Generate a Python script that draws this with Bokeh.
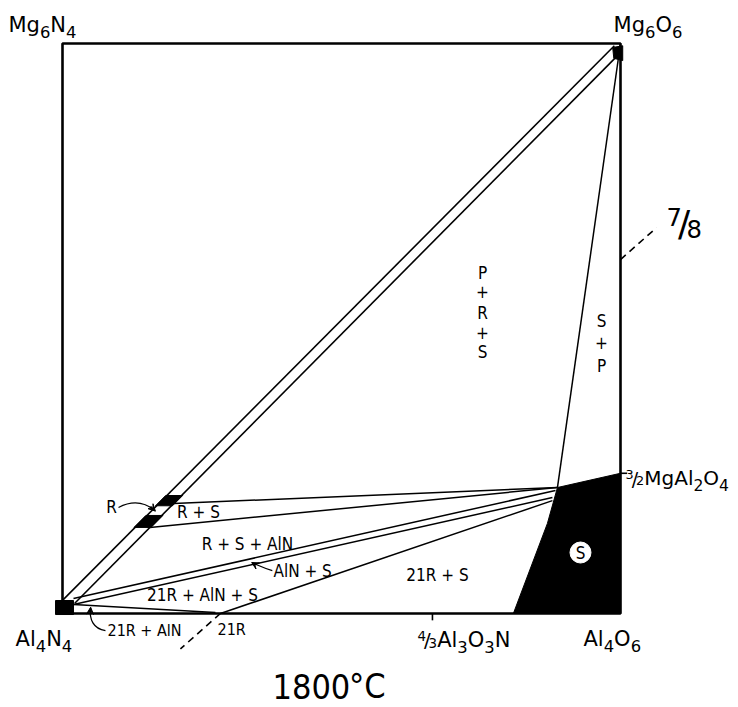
from bokeh.plotting import figure
from bokeh.models import Range1d, Arrow, VeeHead
from bokeh.embed import file_html
from bokeh.resources import INLINE
from bokeh.core.properties import value

FONT = "DejaVu Sans"
FONT_C = "DejaVu Sans Condensed"

# ---- data: compositions (x = equiv. fraction O, y = equiv. fraction Mg) ----
box_x = [0, 1, 1, 0, 0]          # Al4N4 -> Al4O6 -> Mg6O6 -> Mg6N4
box_y = [0, 0, 1, 1, 0]

alon_x = 0.663                   # 4/3 Al3O3N
spinel_y = 0.25                  # 3/2 MgAl2O4
inv_pt = (0.887, 0.221)          # S apex of the tie-line fans
r21_x = 0.283                    # 21R on the AlN-Al2O3 join
line78_end = (1.0, 0.621)        # 7/8 section meets the MgO-Al2O3 edge

spinel_region_x = [0.887, 1.0, 1.0, 0.808, 0.869]
spinel_region_y = [0.221, 0.246, 0.0, 0.0, 0.158]

band_upper_x = [0.000, 0.989]
band_upper_y = [0.023, 0.996]
band_lower_x = [0.022, 1.000]
band_lower_y = [0.018, 0.984]

r_blob_y = [(0.189, 0.207), (0.151, 0.172)]
r_tie_y = [0.193, 0.151]

aln_s_upper = ([0.0197, 0.8835], [0.0263, 0.2158])
aln_s_lower = ([0.0197, 0.878], [0.0158, 0.2035])
aln_21r = ([0.0197, 0.274], [0.0158, 0.0018])
r21_s = ([0.283, 0.878], [0.0, 0.198])

aln_blob_x = [-0.0125, 0.0197, 0.0197, -0.0125]
aln_blob_y = [-0.0018, -0.0018, 0.0228, 0.0228]
mgo_blob_x = [0.986, 1.004, 1.004, 0.988]
mgo_blob_y = [0.993, 0.996, 0.970, 0.974]

PX_X, PX_Y = 558.0, 570.0   # pixels per composition unit


def x_on(lx, ly, y):
    return lx[0] + (lx[1] - lx[0]) * (y - ly[0]) / (ly[1] - ly[0])


p = figure(width=738, height=707, output_backend="svg", toolbar_location=None,
           x_range=Range1d(-62 / PX_X, 676 / PX_X), y_range=Range1d(-94 / PX_Y, 613 / PX_Y),
           min_border=0)
p.axis.visible = False
p.grid.visible = False
p.outline_line_color = None
p.background_fill_color = "white"

K = "black"

# frame
p.line(box_x, box_y, line_color=K, line_width=2.6)

# spinel single-phase region
p.patch(spinel_region_x, spinel_region_y, fill_color=K, line_color=K, line_width=1)

# corner blobs
p.patch(aln_blob_x, aln_blob_y, fill_color=K, line_color=K)
p.patch(mgo_blob_x, mgo_blob_y, fill_color=K, line_color=K)

# R band
p.line(band_upper_x, band_upper_y, line_color=K, line_width=1.6)
p.line(band_lower_x, band_lower_y, line_color=K, line_width=1.6)
for (ya, yb) in r_blob_y:
    pad = 0.002
    xs = [x_on(band_upper_x, band_upper_y, ya) - pad, x_on(band_upper_x, band_upper_y, yb) - pad,
          x_on(band_lower_x, band_lower_y, yb) + pad, x_on(band_lower_x, band_lower_y, ya) + pad]
    p.patch(xs, [ya, yb, yb, ya], fill_color=K, line_color=K)

# R + S tie lines
for yt in r_tie_y:
    p.line([x_on(band_lower_x, band_lower_y, yt), inv_pt[0]], [yt, inv_pt[1]],
           line_color=K, line_width=1.5)

# AlN + S double line, 21R lines
for lx, ly in [aln_s_upper, aln_s_lower, aln_21r, r21_s]:
    p.line(lx, ly, line_color=K, line_width=1.5)

# S + P boundary
p.line([1.0, inv_pt[0]], [1.0, inv_pt[1]], line_color=K, line_width=1.5)

# dashed 7/8 section (outside the square only)
dx = line78_end[0] - r21_x
dy = line78_end[1] - 0.0
p.line([r21_x, r21_x - 0.10 * dx], [0.0, -0.10 * dy], line_color=K, line_width=1.6, line_dash="7 5")
p.line([line78_end[0], line78_end[0] + 0.09 * dx], [line78_end[1], line78_end[1] + 0.09 * dy],
       line_color=K, line_width=1.6, line_dash="7 5")

# ticks
p.line([alon_x, alon_x], [0.0, -0.012], line_color=K, line_width=1.6)
p.line([1.0, 1.012], [spinel_y - 0.004, spinel_y - 0.004], line_color=K, line_width=1.6)

# circled S
p.scatter([0.9283], [0.107], size=21, fill_color="white", line_color="white")

M = "middle"


def txt(x, y, s, size, align="left", font=FONT_C):
    p.text([x], [y], text=[s], text_font=value(font), text_font_size=size,
           text_align=align, text_baseline=M, text_color=K)


# DejaVu Sans advance widths (em); cap height 0.729 em
W = {"M": .863, "g": .635, "N": .748, "O": .787, "A": .684, "l": .278, "/": .337}
for d in "0123456789":
    W[d] = .636
CAP = 0.729


def rich(x, y, pieces, S):
    """Label with subscripts / stacked fractions; x,y = left / baseline."""
    cx = x
    for s, kind in pieces:
        size, off = {"n": (S, 0.0), "sub": (0.78 * S, -0.24 * S),
                     "num": (0.64 * S, 0.30 * S), "den": (0.64 * S, 0.0),
                     "sl": (0.95 * S, 0.0)}[kind]
        ymid = y + (off + CAP * size / 2) / PX_Y
        txt(cx, ymid, s, "%.1fpx" % size, font=FONT)
        adv = sum(W[c] for c in s) * size
        if kind == "num":
            adv *= 0.75
        if kind == "sl":
            adv *= 0.7
        cx += adv / PX_X


rich(-0.0968, 1.0193, [("Mg", "n"), ("6", "sub"), ("N", "n"), ("4", "sub")], 21)
rich(0.9875, 1.0193, [("Mg", "n"), ("6", "sub"), ("O", "n"), ("6", "sub")], 21)
rich(-0.0842, -0.0579, [("Al", "n"), ("4", "sub"), ("N", "n"), ("4", "sub")], 21)
rich(0.9337, -0.0579, [("Al", "n"), ("4", "sub"), ("O", "n"), ("6", "sub")], 21)
rich(0.6362, -0.0596, [("4", "num"), ("/", "sl"), ("3", "den"), ("Al", "n"), ("3", "sub"),
                       ("O", "n"), ("3", "sub"), ("N", "n")], 21)
rich(1.009, 0.2246, [("3", "num"), ("/", "sl"), ("2", "den"), ("MgAl", "n"), ("2", "sub"),
                     ("O", "n"), ("4", "sub")], 20)
rich(1.0824, 0.6596, [("7", "num"), ("/", "sl"), ("8", "den")], 38)

txt(0.3763, -0.1280, "1800", "34px")
txt(0.5134, -0.1280, "°C", "34px")

# phase-field labels
txt(0.2778, -0.0289, "21R", "16px")
txt(0.0806, -0.0307, "21R + AlN", "16px")
txt(0.0878, 0.186, "R", "17px", "center")
txt(0.2437, 0.1772, "R + S", "17px", "center")
txt(0.3315, 0.1228, "R + S + AlN", "17px", "center")
txt(0.378, 0.0754, "AlN + S", "17px", "left")
txt(0.2509, 0.0316, "21R + AlN + S", "17px", "center")
txt(0.672, 0.0667, "21R + S", "17px", "center")
txt(0.9283, 0.107, "S", "17px", "center")

for s, yy in zip(["P", "+", "R", "+", "S"], [0.598, 0.565, 0.528, 0.493, 0.459]):
    txt(0.7527, yy, s, "17px", "center")
for s, yy in zip(["S", "+", "P"], [0.514, 0.475, 0.435]):
    txt(0.966, yy, s, "17px", "center")

# curved arrows
p.bezier(x0=[0.1004], y0=[0.186], x1=[0.1649], y1=[0.181],
         cx0=[0.122], cy0=[0.197], cx1=[0.145], cy1=[0.197], line_color=K, line_width=1.3)
p.add_layout(Arrow(end=VeeHead(size=7, fill_color=K, line_color=K), x_start=0.158, y_start=0.188,
                   x_end=0.1665, y_end=0.1795, line_color=K, line_width=1.3))

p.bezier(x0=[0.376], y0=[0.0754], x1=[0.341], y1=[0.088],
         cx0=[0.36], cy0=[0.079], cx1=[0.35], cy1=[0.086], line_color=K, line_width=1.3)
p.add_layout(Arrow(end=VeeHead(size=7, fill_color=K, line_color=K), x_start=0.347, y_start=0.085,
                   x_end=0.339, y_end=0.0895, line_color=K, line_width=1.3))

p.bezier(x0=[0.077], y0=[-0.0300], x1=[0.050], y1=[0.009],
         cx0=[0.055], cy0=[-0.027], cx1=[0.048], cy1=[-0.01], line_color=K, line_width=1.3)
p.add_layout(Arrow(end=VeeHead(size=7, fill_color=K, line_color=K), x_start=0.0495, y_start=0.0,
                   x_end=0.0505, y_end=0.011, line_color=K, line_width=1.3))

open("out.html", "w").write(file_html(p, INLINE))
